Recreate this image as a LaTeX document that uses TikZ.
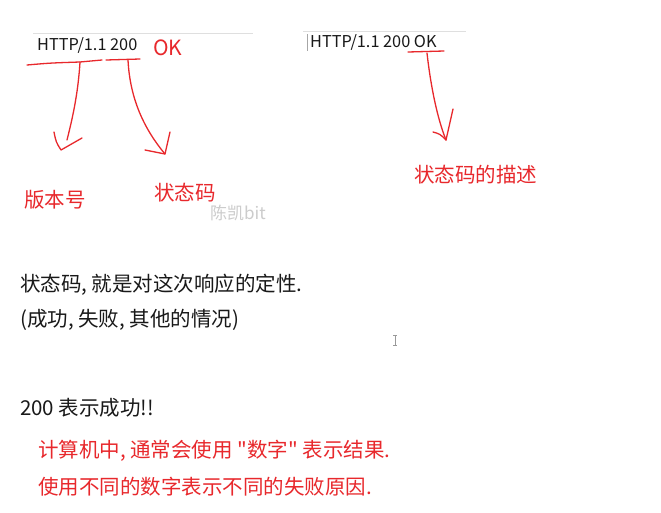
\documentclass[tikz,border=0pt]{standalone}
\usepackage{fontspec}
\newfontfamily\yahei{Noto Sans CJK SC}
\usepackage{xcolor}
\definecolor{penred}{RGB}{232,40,44}
\definecolor{inkgray}{RGB}{25,25,25}
\tikzset{
  note/.style={anchor=west,inner sep=0pt,text=inkgray,font=\yahei\fontsize{20.5}{23}\selectfont},
  rednote/.style={anchor=west,inner sep=0pt,text=penred,font=\yahei\fontsize{20.5}{23}\selectfont},
  pen/.style={penred,line width=1.3pt,line cap=round,line join=round}
}

\begin{document}
\begin{tikzpicture}[x=1pt,y=-1pt]
\fill[white] (0,0) rectangle (661,512);
\useasboundingbox (0,0) rectangle (661,512);
% editor strips
\draw[gray!25] (33,33) -- (253,33);
\draw[gray!25] (303,31) -- (466,31);
\draw[gray!70] (307,34) -- (307,51);
% status lines
\node[note,font=\yahei\fontsize{16.3}{18}\selectfont] (leftline) at (37,45) {HTTP/1.1 200};
\node[rednote,font=\yahei\fontsize{21}{24}\selectfont] (okword) at (153,48) {OK};
\node[note,font=\yahei\fontsize{16.3}{18}\selectfont] (rightline) at (310,42) {HTTP/1.1 200 OK};
% labels
\node[rednote] (version) at (24,200) {版本号};
\node[rednote] (code) at (154,193) {状态码};
\node[rednote] (codedesc) at (414,175) {状态码的描述};
\node[anchor=west,inner sep=0pt,text=gray!40,font=\yahei\fontsize{17}{20}\selectfont] (mark) at (210,213) {陈凯bit};
% body text
\node[note] (lineA) at (20,285) {状态码, 就是对这次响应的定性.};
\node[note] (lineB) at (20,320) {(成功, 失败, 其他的情况)};
\node[note] (lineC) at (20,408) {200 表示成功!!};
\node[rednote] (lineD) at (38,451) {计算机中, 通常会使用 "数字" 表示结果.};
\node[rednote] (lineE) at (38,487) {使用不同的数字表示不同的失败原因.};
% text cursor
\draw[gray!80,line width=0.6pt] (393,335) -- (397,335) (395,335) -- (395,345) (393,345) -- (397,345);
% underlines
\coordinate (verfoot) at (80,62);
\coordinate (codefoot) at (128,60);
\coordinate (descfoot) at (427,53);
\draw[pen] (27,65) .. controls (50,63) .. (verfoot) -- (102,60);
\draw[pen] (106,60) -- (140,59);
\draw[pen] (408,52) -- (444,51);
% arrows
\coordinate (vertip) at (61,150);
\coordinate (codetip) at (165,154);
\coordinate (desctip) at (446,140);
\draw[pen] (verfoot) .. controls (78,95) and (72,120) .. (67,140);
\draw[pen] (54,132) .. controls (56,142) .. (vertip) -- (82,138);
\draw[pen] (codefoot) .. controls (130,100) and (145,130) .. (codetip);
\draw[pen] (145,150) -- (codetip) -- (170,132);
\draw[pen] (descfoot) .. controls (430,80) and (436,115) .. (desctip);
\draw[pen] (433,132) .. controls (440,134) .. (desctip) -- (453,109);
\end{tikzpicture}
\end{document}
